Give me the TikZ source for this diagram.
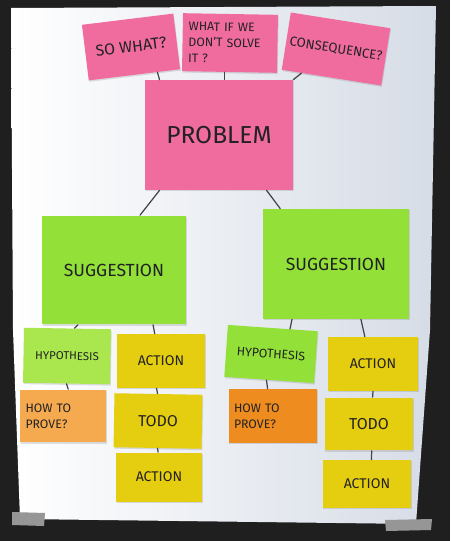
\documentclass[tikz,border=0pt]{standalone}
\usepackage{fontspec}
\setmainfont{Fira Sans}
\usetikzlibrary{positioning,calc,shadows}

\definecolor{pinkpad}{RGB}{240,108,158}
\definecolor{limepad}{RGB}{146,224,56}
\definecolor{limelight}{RGB}{170,231,78}
\definecolor{yellowpad}{RGB}{229,205,16}
\definecolor{orangelight}{RGB}{246,170,80}
\definecolor{orangepad}{RGB}{238,140,32}
\definecolor{paperblue}{RGB}{214,220,230}
\definecolor{ink}{RGB}{34,34,34}
\definecolor{tape}{RGB}{150,150,150}

\tikzset{
  note/.style={fill=#1, text=ink, inner sep=2pt, align=center,
    drop shadow={shadow xshift=0.4pt, shadow yshift=-0.8pt, opacity=0.25}},
  link/.style={draw=ink!85, line width=0.7pt, line cap=round},
}

\begin{document}
\begin{tikzpicture}[x=0.02cm,y=-0.02cm]
\useasboundingbox (0,0) rectangle (450,541);
% wall and flipchart sheet
\fill[black!88] (0,0) rectangle (450,541);
\shade[left color=white, right color=paperblue]
  (11,8) -- (436,6) -- (430,330) -- (416,524) -- (20,519) -- (13,330) -- cycle;
\fill[tape] (12,512) -- (45,513) -- (44,526) -- (12,525) -- cycle;
\fill[tape] (385,520) -- (432,519) -- (431,530) -- (386,531) -- cycle;

% top row
\node[note=pinkpad, minimum width=1.84cm, minimum height=1.12cm, rotate=7,
      font=\fontsize{9}{10}\selectfont] (sowhat) at (131,47) {SO WHAT?};
\node[note=pinkpad, minimum width=1.9cm, minimum height=1.16cm, rotate=-1,
      text width=1.66cm, align=left, font=\fontsize{7}{9}\selectfont] (whatif) at (230,43)
      {WHAT IF WE\\DON'T SOLVE\\IT ?};
\node[note=pinkpad, minimum width=1.84cm, minimum height=1.16cm, rotate=-9,
      font=\fontsize{7.5}{9}\selectfont] (conseq) at (336,49) {CONSEQUENCE?};
\node[note=pinkpad, minimum width=2.96cm, minimum height=2.2cm,
      font=\fontsize{14}{16}\selectfont] (problem) at (219,135) {PROBLEM};

% suggestions
\node[note=limepad, minimum width=2.88cm, minimum height=2.18cm,
      font=\fontsize{10}{12}\selectfont] (sugL) at (114,270) {SUGGESTION};
\node[note=limepad, minimum width=2.92cm, minimum height=2.2cm,
      font=\fontsize{10}{12}\selectfont] (sugR) at (336,264) {SUGGESTION};

% left branch
\node[note=limelight, minimum width=1.74cm, minimum height=1.1cm, rotate=-1,
      font=\fontsize{6.5}{8}\selectfont] (hypL) at (67,356) {HYPOTHESIS};
\node[note=yellowpad, minimum width=1.78cm, minimum height=1.08cm,
      font=\fontsize{8}{9}\selectfont] (actL) at (161,361) {ACTION};
\node[note=orangelight, minimum width=1.72cm, minimum height=1.06cm,
      text width=1.5cm, align=left, font=\fontsize{7}{9}\selectfont] (howL) at (63,416)
      {HOW TO\\PROVE?};
\node[note=yellowpad, minimum width=1.76cm, minimum height=1.08cm, rotate=-1,
      font=\fontsize{9}{10}\selectfont] (todoL) at (158,421) {TODO};
\node[note=yellowpad, minimum width=1.72cm, minimum height=0.98cm,
      font=\fontsize{8}{9}\selectfont] (actL2) at (159,477) {ACTION};

% right branch
\node[note=limepad, minimum width=1.8cm, minimum height=1.04cm, rotate=-4,
      font=\fontsize{7}{8}\selectfont] (hypR) at (271,354) {HYPOTHESIS};
\node[note=yellowpad, minimum width=1.8cm, minimum height=1.08cm,
      font=\fontsize{8}{9}\selectfont] (actR) at (373,364) {ACTION};
\node[note=orangepad, minimum width=1.78cm, minimum height=1.08cm,
      text width=1.56cm, align=left, font=\fontsize{7}{9}\selectfont] (howR) at (273,416)
      {HOW TO\\PROVE?};
\node[note=yellowpad, minimum width=1.78cm, minimum height=1.06cm,
      font=\fontsize{9}{10}\selectfont] (todoR) at (369,424) {TODO};
\node[note=yellowpad, minimum width=1.78cm, minimum height=0.96cm,
      font=\fontsize{8}{9}\selectfont] (actR2) at (367,484) {ACTION};

% strings between the notes
\draw[link] ($(sowhat.south west)!.75!(sowhat.south east)$) -- ($(problem.north west)!.1!(problem.north east)$);
\draw[link] ($(whatif.south west)!.45!(whatif.south east)$) coordinate (wi) -- (wi |- problem.north);
\draw[link] ($(conseq.south west)!.2!(conseq.south east)$) -- (problem.north east);
\draw[link] ($(problem.south west)!.1!(problem.south east)$) -- ($(sugL.north west)!.68!(sugL.north east)$);
\draw[link] ($(problem.south west)!.82!(problem.south east)$) -- ($(sugR.north west)!.12!(sugR.north east)$);
\draw[link] ($(sugL.south west)!.25!(sugL.south east)$) -- ($(hypL.north west)!.58!(hypL.north east)$);
\draw[link] ($(sugL.south west)!.77!(sugL.south east)$) -- ($(actL.north west)!.43!(actL.north east)$);
\draw[link] ($(sugR.south west)!.2!(sugR.south east)$) -- ($(hypR.north west)!.69!(hypR.north east)$);
\draw[link] ($(sugR.south west)!.67!(sugR.south east)$) -- ($(actR.north west)!.41!(actR.north east)$);
\draw[link] ($(hypL.south west)!.5!(hypL.south east)$) -- ($(howL.north west)!.56!(howL.north east)$);
\draw[link] ($(actL.south west)!.45!(actL.south east)$) -- ($(todoL.north west)!.49!(todoL.north east)$);
\draw[link] ($(todoL.south west)!.5!(todoL.south east)$) -- ($(actL2.north west)!.49!(actL2.north east)$);
\draw[link] ($(hypR.south west)!.47!(hypR.south east)$) -- ($(howR.north west)!.44!(howR.north east)$);
\draw[link] ($(actR.south west)!.5!(actR.south east)$) -- ($(todoR.north west)!.54!(todoR.north east)$);
\draw[link] ($(todoR.south west)!.53!(todoR.south east)$) -- ($(actR2.north west)!.55!(actR2.north east)$);
\end{tikzpicture}
\end{document}
